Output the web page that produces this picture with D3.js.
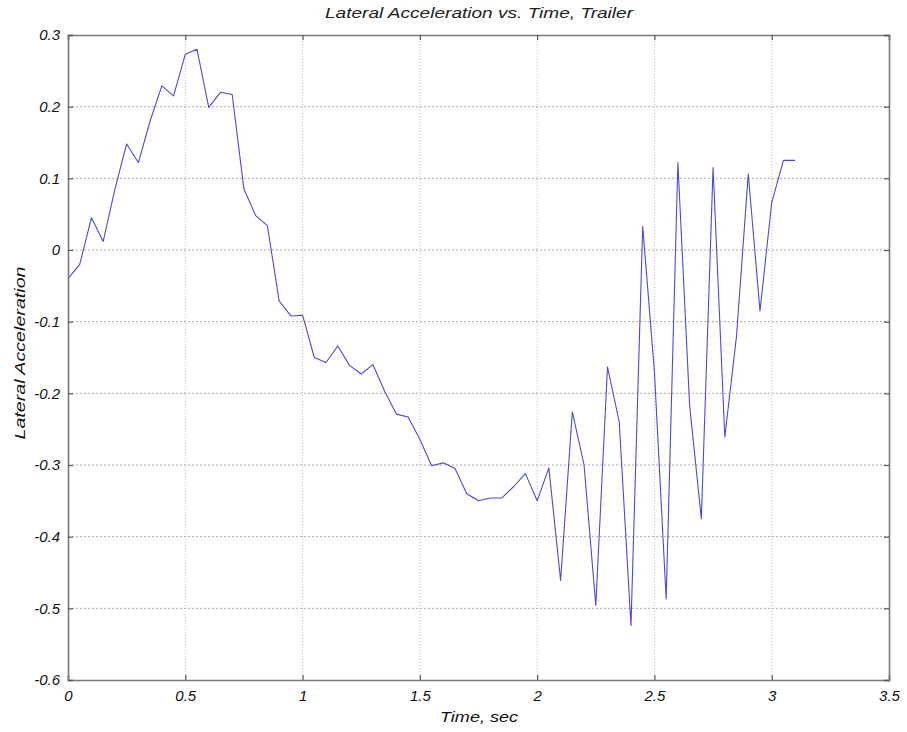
<!DOCTYPE html>
<html><head><meta charset="utf-8">
<script src="https://cdn.jsdelivr.net/npm/d3@7"></script>
<style>
body{margin:0;background:#fff;}
text{font-family:"Liberation Sans",Arial,sans-serif;font-style:italic;}
</style></head>
<body><svg id="c" width="907" height="732"></svg>
<script>
const times = [0.00,0.05,0.10,0.15,0.20,0.25,0.30,0.35,0.40,0.45,0.50,0.55,0.60,0.65,0.70,0.75,0.80,0.85,0.90,0.95,
1.00,1.05,1.10,1.15,1.20,1.25,1.30,1.35,1.40,1.45,1.50,1.55,1.60,1.65,1.70,1.75,1.80,1.85,1.90,1.95,
2.00,2.05,2.10,2.15,2.20,2.25,2.30,2.35,2.40,2.45,2.50,2.55,2.60,2.65,2.70,2.75,2.80,2.85,2.90,2.95,
3.00,3.05,3.10];
const accel = [-0.040,-0.020,0.045,0.012,0.085,0.148,0.122,0.180,0.229,0.215,0.273,0.280,0.199,0.220,0.217,0.085,0.048,0.034,-0.071,-0.092,
-0.091,-0.150,-0.157,-0.134,-0.161,-0.173,-0.160,-0.197,-0.229,-0.233,-0.264,-0.301,-0.297,-0.305,-0.340,-0.350,-0.346,-0.346,-0.330,-0.312,
-0.350,-0.304,-0.461,-0.226,-0.300,-0.496,-0.163,-0.240,-0.524,0.033,-0.170,-0.487,0.122,-0.217,-0.375,0.115,-0.261,-0.120,0.106,-0.085,
0.066,0.125,0.125];
const xTicks = [0,0.5,1,1.5,2,2.5,3,3.5];
const yTicks = [0.3,0.2,0.1,0,-0.1,-0.2,-0.3,-0.4,-0.5,-0.6];
const titleText = "Lateral Acceleration vs. Time, Trailer";
const xLabel = "Time, sec";
const yLabel = "Lateral Acceleration";

const L=68,R=889,T=35,B=680;
const svg=d3.select("#c");
const x=d3.scaleLinear().domain([0,3.5]).range([L,R]);
const y=d3.scaleLinear().domain([-0.6,0.3]).range([B,T]);

// grid
const g=svg.append("g");
g.selectAll(".gx").data(xTicks.slice(1,-1)).enter().append("line")
 .attr("x1",d=>x(d)).attr("x2",d=>x(d)).attr("y1",T).attr("y2",B)
 .attr("stroke","#bbb").attr("stroke-width",1).attr("stroke-dasharray","1,2");
g.selectAll(".gy").data(yTicks.slice(1,-1)).enter().append("line")
 .attr("y1",d=>y(d)).attr("y2",d=>y(d)).attr("x1",L).attr("x2",R)
 .attr("stroke","#aaa").attr("stroke-width",1).attr("stroke-dasharray","2,2");

// line
const line=d3.line().x((d,i)=>x(times[i])).y(d=>y(d));
svg.append("path").datum(accel).attr("d",line).attr("fill","none")
 .attr("stroke","#4b4bd0").attr("stroke-width",1.1).attr("stroke-linejoin","round");

// axes (MATLAB-like, ticks inward on all sides)
const fmt=d=>String(+d.toFixed(1));
const ax=svg.append("g").attr("transform",`translate(0,${B})`)
 .call(d3.axisBottom(x).tickValues(xTicks).tickSize(-5).tickPadding(10).tickFormat(fmt));
const axT=svg.append("g").attr("transform",`translate(0,${T})`)
 .call(d3.axisTop(x).tickValues(xTicks).tickSize(-5).tickFormat(""));
const ay=svg.append("g").attr("transform",`translate(${L},0)`)
 .call(d3.axisLeft(y).tickValues(yTicks).tickSize(-5).tickPadding(8).tickFormat(fmt));
const ayR=svg.append("g").attr("transform",`translate(${R},0)`)
 .call(d3.axisRight(y).tickValues(yTicks).tickSize(-5).tickFormat(""));
[ax,axT,ay,ayR].forEach(a=>{
 a.select(".domain").attr("stroke","#7a7a7a").attr("stroke-width",1.6);
 a.selectAll(".tick line").attr("stroke","#555").attr("stroke-width",1.2);
 a.selectAll(".tick text").attr("fill","#111").style("font-size","15px").style("font-style","italic")
  .style("font-family","'Liberation Sans',Arial,sans-serif");
});

svg.append("text").attr("x",479).attr("y",18).attr("text-anchor","middle")
 .attr("textLength",308).attr("lengthAdjust","spacingAndGlyphs")
 .style("font-size","14px").attr("fill","#222").text(titleText);
svg.append("text").attr("x",479).attr("y",722).attr("text-anchor","middle")
 .attr("textLength",78).attr("lengthAdjust","spacingAndGlyphs")
 .style("font-size","15px").attr("fill","#111").text(xLabel);
svg.append("text").attr("transform",`translate(25,353) rotate(-90)`).attr("text-anchor","middle")
 .attr("textLength",173).attr("lengthAdjust","spacingAndGlyphs")
 .style("font-size","14px").attr("fill","#111").text(yLabel);
</script></body></html>
